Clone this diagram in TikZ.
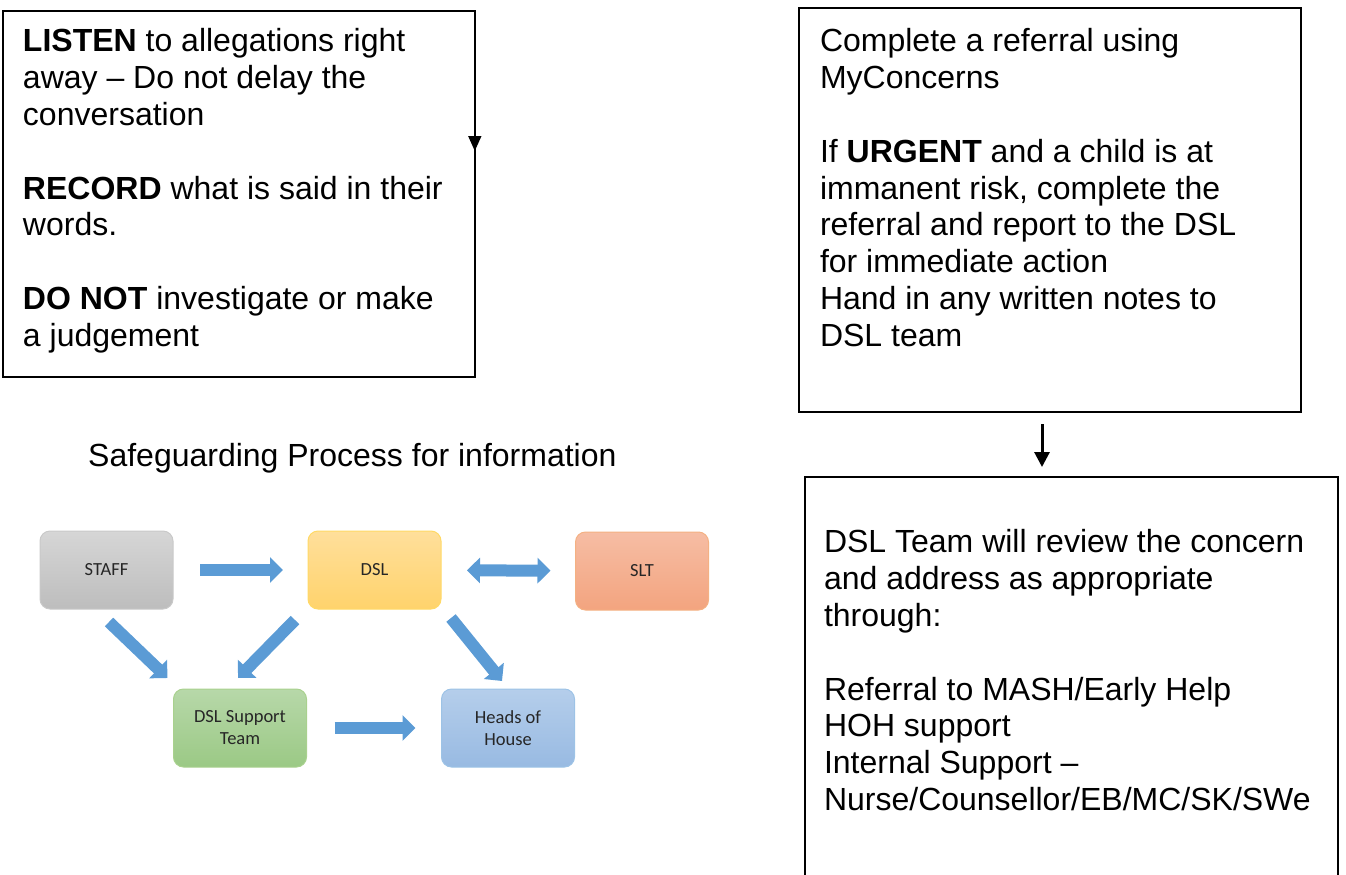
\documentclass[tikz,border=0pt]{standalone}
\usepackage{fontspec}
\setmainfont{Liberation Sans}
\newfontfamily\calib{Carlito}
\usetikzlibrary{arrows.meta,calc}
\definecolor{barrow}{HTML}{5B9BD5}
\definecolor{stafftop}{HTML}{D6D6D6}\definecolor{staffbot}{HTML}{BDBDBD}\definecolor{staffline}{HTML}{C9C9C9}
\definecolor{dsltop}{HTML}{FFDF9B}\definecolor{dslbot}{HTML}{FFD36C}\definecolor{dslline}{HTML}{FFD966}
\definecolor{slttop}{HTML}{F6BDA4}\definecolor{sltbot}{HTML}{F3A47F}\definecolor{sltline}{HTML}{F4B183}
\definecolor{suptop}{HTML}{B7D8A9}\definecolor{supbot}{HTML}{9BC985}\definecolor{supline}{HTML}{A9D18E}
\definecolor{hohtop}{HTML}{B5CEEB}\definecolor{hohbot}{HTML}{98BAE2}\definecolor{hohline}{HTML}{9DC3E6}
\definecolor{smalltext}{HTML}{262626}
\tikzset{
  bigbox/.style={draw=black, line width=1.5pt, inner sep=0pt, outer sep=0pt},
  bigtext/.style={anchor=north west, inner sep=0pt, outer sep=0pt, align=left,
    font=\fontsize{32pt}{36.8pt}\selectfont},
  smallbox/.style={rounded corners=10pt, minimum width=133pt, minimum height=78pt,
    inner sep=0pt, outer sep=0pt, line width=1pt, align=center,
    font=\calib\fontsize{18.5pt}{22pt}\selectfont, text=smalltext},
  blockarrow/.style={line width=12pt, draw=barrow, -{Triangle[width=25pt,length=13pt]}},
  dblockarrow/.style={line width=12pt, draw=barrow, {Triangle[width=25pt,length=13pt]}-{Triangle[width=25pt,length=13pt]}},
  thinarrow/.style={line width=1.5pt, -{Triangle[width=13pt,length=15pt]}},
  thickarrow/.style={line width=3pt, -{Triangle[width=15pt,length=15pt]}}
}
\begin{document}
\begin{tikzpicture}[x=1pt,y=-1pt]
\useasboundingbox (0,0) rectangle (1346,875);

% left box
\node[bigbox, minimum width=472pt, minimum height=366pt, anchor=north west] (leftbox) at (3,11) {};
\node[bigtext] (lefttext) at (23,26.2) {\strut\textbf{LISTEN} to allegations right\\
away – Do not delay the\\
conversation\\[36.8pt]
\textbf{RECORD} what is said in their\\
words.\\[36.8pt]
\textbf{DO NOT} investigate or make\\
a judgement};
\coordinate (la) at (474.8,100);
\coordinate (lb) at (474.8,151);
\draw[thinarrow] (la) -- (lb);

% right top box
\node[bigbox, minimum width=502pt, minimum height=404pt, anchor=north west] (rtbox) at (799,8) {};
\node[bigtext] (rttext) at (820,26.2) {\strut Complete a referral using\\
MyConcerns\\[36.8pt]
If \textbf{URGENT} and a child is at\\
immanent risk, complete the\\
referral and report to the DSL\\
for immediate action\\
Hand in any written notes to\\
DSL team};

% arrow between right boxes
\coordinate (ra) at (1042,424);
\coordinate (rb) at (1042,467);
\draw[thickarrow] (ra) -- (rb);

% right bottom box (open at bottom)
\coordinate (rbbl) at (805,885);
\coordinate (rbbr) at (1338,885);
\draw[line width=1.5pt] (rbbl) |- (1338,477) -- (rbbr);
\node[bigtext] (rbtext) at (824,527.2) {\strut DSL Team will review the concern\\
and address as appropriate\\
through:\\[36.8pt]
Referral to MASH/Early Help\\
HOH support\\
Internal Support –\\
Nurse/Counsellor/EB/MC/SK/SWe};

% title
\node[anchor=base west, inner sep=0pt, font=\fontsize{32pt}{36.8pt}\selectfont] (title) at (88,466) {Safeguarding Process for information};

% small diagram
\node[smallbox, draw=staffline, top color=stafftop, bottom color=staffbot] (staff) at (106.5,570) {STAFF};
\node[smallbox, draw=dslline, top color=dsltop, bottom color=dslbot] (dsl) at (374.5,570) {DSL};
\node[smallbox, draw=sltline, top color=slttop, bottom color=sltbot] (slt) at (642,571) {SLT};
\node[smallbox, draw=supline, top color=suptop, bottom color=supbot] (sup) at (240,728) {DSL Support\\Team};
\node[smallbox, draw=hohline, top color=hohtop, bottom color=hohbot] (hoh) at (508,728) {Heads of\\House};

\draw[blockarrow, shorten <=27pt, shorten >=25pt] (staff) -- (dsl);
\draw[dblockarrow, shorten <=26pt, shorten >=25pt] (dsl) -- (slt);
\draw[blockarrow, shorten <=28pt, shorten >=26pt] (sup) -- (hoh);

\coordinate (s1) at ([shift={(2.5,13)}]staff.south);
\coordinate (s2) at ([shift={(-6,-11)}]sup.north west);
\draw[blockarrow] (s1) -- (s2);
\coordinate (d1) at ([shift={(-13,11)}]dsl.south west);
\coordinate (d2) at ([shift={(-2,-11)}]sup.north);
\draw[blockarrow] (d1) -- (d2);
\coordinate (h1) at ([shift={(10,9)}]dsl.south east);
\coordinate (h2) at ([shift={(-6,-8)}]hoh.north);
\draw[blockarrow] (h1) -- (h2);
\end{tikzpicture}
\end{document}
